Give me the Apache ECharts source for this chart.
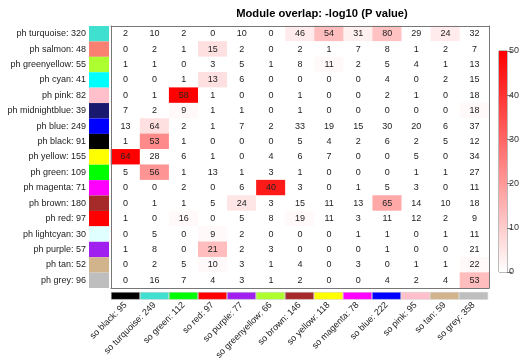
<!DOCTYPE html>
<html>
<head>
<meta charset="utf-8">
<script src="https://cdn.jsdelivr.net/npm/echarts@6/dist/echarts.min.js"></script>
<style>
html,body{margin:0;padding:0;background:#fff;}
#c{width:526px;height:362px;}
</style>
</head>
<body>
<div id="c"></div>
<script>
var titleText = 'Module overlap: -log10 (P value)';
var colLabels = ['so black: 95','so turquoise: 249','so green: 112','so red: 97','so purple: 77','so greenyellow: 66','so brown: 146','so yellow: 118','so magenta: 78','so blue: 222','so pink: 95','so tan: 59','so grey: 358'];
var colColors = ['#000000','#40E0D0','#00FF00','#FF0000','#A020F0','#ADFF2F','#A52A2A','#FFFF00','#FF00FF','#0000FF','#FFC0CB','#D2B48C','#BEBEBE'];
var rowLabels = ['ph turquoise: 320','ph salmon: 48','ph greenyellow: 55','ph cyan: 41','ph pink: 82','ph midnightblue: 39','ph blue: 249','ph black: 91','ph yellow: 155','ph green: 109','ph magenta: 71','ph brown: 180','ph red: 97','ph lightcyan: 30','ph purple: 57','ph tan: 52','ph grey: 96'];
var rowColors = ['#40E0D0','#FA8072','#ADFF2F','#00FFFF','#FFC0CB','#191970','#0000FF','#000000','#FFFF00','#00FF00','#FF00FF','#A52A2A','#FF0000','#E0FFFF','#A020F0','#D2B48C','#BEBEBE'];
// overlap counts (cell text)
var counts = [
  [2,10,2,0,10,0,46,54,31,80,29,24,32],
  [0,2,1,15,2,0,2,1,7,8,1,2,7],
  [1,1,0,3,5,1,8,11,2,5,4,1,13],
  [0,0,1,13,6,0,0,0,0,4,0,2,15],
  [0,1,58,1,0,0,1,0,0,2,1,0,18],
  [7,2,9,1,1,0,1,0,0,0,0,0,18],
  [13,64,2,1,7,2,33,19,15,30,20,6,37],
  [1,53,1,0,0,0,5,4,2,6,2,5,12],
  [64,28,6,1,0,4,6,7,0,0,5,0,34],
  [5,56,1,13,1,3,1,0,0,0,1,1,27],
  [0,0,2,0,6,40,3,0,1,5,3,0,11],
  [0,1,1,5,24,3,15,11,13,65,14,10,18],
  [1,0,16,0,5,8,19,11,3,11,12,2,9],
  [0,5,0,9,2,0,0,0,1,1,0,1,11],
  [1,8,0,21,2,3,0,0,0,1,0,0,21],
  [0,2,5,10,3,1,4,0,3,0,1,1,22],
  [0,16,7,4,3,1,2,0,0,4,2,4,53]
];
// -log10(P) estimates (cell colour)
var logP = [
  [0,0,0,0,0,0,4,13,3,12,0,4,0],
  [0,0,0,6,0,0,0,0,0,0,0,0,0],
  [0,0,0,0,0,0,0,1.2,0,0,0,0,0],
  [0,0,0,6,0,0,0,0,0,0,0,0,0],
  [0,0,52,0,0,0,0,0,0,0,0,0,0],
  [0,0,1.2,0,0,0,0,0,0,0,0,0,1.2],
  [0,6,0,0,0,0,0,0,0,0,0,0,0],
  [0,23,0,0,0,0,0,0,0,0,0,0,0],
  [50,0,0,0,0,0,0,0,0,0,0,0,0],
  [0,21,0,0,0,0,0,0,0,0,0,0,0],
  [0,0,0,0,0,45,0,0,0,0,0,0,0],
  [0,0,0,0,5,0,0,0,0,17,0,0,0],
  [0,0,1.2,0,0,0,1.2,0,0,0,0,0,0],
  [0,0,0,1.2,0,0,0,0,0,0,0,0,0],
  [0,0,0,13,0,0,0,0,0,0,0,0,0],
  [0,0,0,1.2,0,0,0,0,0,0,0,0,1.2],
  [0,0,0,0,0,0,0,0,0,0,0,0,13]
];
var legendTicks = [0,10,20,30,40,50];

var FONT = 'Liberation Sans, Arial, sans-serif';
var heatData = [];
for (var r = 0; r < rowLabels.length; r++) {
  for (var c = 0; c < colLabels.length; c++) {
    heatData.push([c, r, logP[r][c], counts[r][c]]);
  }
}
var rowSwatch = rowColors.map(function (col) { return { value: 1, itemStyle: { color: col } }; });
var colSwatch = colColors.map(function (col) { return { value: 1, itemStyle: { color: col } }; });

var chart = echarts.init(document.getElementById('c'), null, { renderer: 'canvas' });
var hidden = { show: false };
chart.setOption({
  animation: false,
  backgroundColor: '#fff',
  title: {
    text: titleText, left: 317, top: 3, textAlign: 'center',
    textStyle: { fontFamily: FONT, fontSize: 11.2, fontWeight: 'bold', color: '#000' }
  },
  grid: [
    { left: 111, top: 26, width: 378, height: 262 },   // main
    { left: 89, top: 26, width: 20, height: 262 },     // row swatches
    { left: 111, top: 292, width: 377, height: 13 },   // column swatches
    { left: 499, top: 51, width: 8, height: 221, show: true, borderColor: '#777', borderWidth: 1 } // legend
  ],
  visualMap: {
    show: false, seriesIndex: 0, dimension: 2, min: 0, max: 50,
    inRange: { color: ['#FFFFFF', '#FF0000'] }
  },
  xAxis: [
    { gridIndex: 0, type: 'category', data: colLabels, position: 'bottom', z: 10,
      axisLine: { show: true, lineStyle: { color: '#777' } }, axisTick: hidden, axisLabel: hidden, splitLine: hidden },
    { gridIndex: 0, type: 'category', data: colLabels, position: 'top', z: 10,
      axisLine: { show: true, lineStyle: { color: '#777' } }, axisTick: hidden, axisLabel: hidden, splitLine: hidden },
    { gridIndex: 1, type: 'value', min: 0, max: 1, show: false },
    { gridIndex: 2, type: 'category', data: colLabels, position: 'bottom',
      axisLine: hidden, axisTick: hidden, splitLine: hidden,
      axisLabel: { show: true, interval: 0, rotate: 45, margin: 4, fontFamily: FONT, fontSize: 9, color: '#222' } },
    { gridIndex: 3, type: 'category', data: ['scale'], show: false }
  ],
  yAxis: [
    { gridIndex: 0, type: 'category', data: rowLabels, inverse: true, position: 'left', z: 10,
      axisLine: { show: true, lineStyle: { color: '#777' } }, axisTick: hidden, axisLabel: hidden, splitLine: hidden },
    { gridIndex: 0, type: 'category', data: rowLabels, inverse: true, position: 'right', z: 10,
      axisLine: { show: true, lineStyle: { color: '#777' } }, axisTick: hidden, axisLabel: hidden, splitLine: hidden },
    { gridIndex: 1, type: 'category', data: rowLabels, inverse: true, position: 'left',
      axisLine: hidden, axisTick: hidden, splitLine: hidden,
      axisLabel: { show: true, interval: 0, margin: 3, fontFamily: FONT, fontSize: 9, color: '#222' } },
    { gridIndex: 2, type: 'value', min: 0, max: 1, show: false },
    { gridIndex: 3, type: 'value', min: legendTicks[0], max: legendTicks[legendTicks.length - 1], interval: 10, position: 'right',
      axisLine: { show: false }, splitLine: hidden,
      axisTick: { show: true, length: 5, lineStyle: { color: '#777' } },
      axisLabel: { show: true, margin: 2, fontFamily: FONT, fontSize: 9, color: '#333' } }
  ],
  series: [
    {
      type: 'heatmap', xAxisIndex: 0, yAxisIndex: 0, data: heatData,
      label: { show: true, fontFamily: FONT, fontSize: 9, color: '#222',
        formatter: function (p) { return p.value[3]; } },
      itemStyle: { borderWidth: 0 },
      emphasis: { disabled: true }
    },
    {
      type: 'bar', xAxisIndex: 2, yAxisIndex: 2, data: rowSwatch,
      barWidth: '100%', barCategoryGap: 0, silent: true
    },
    {
      type: 'bar', xAxisIndex: 3, yAxisIndex: 3, data: colSwatch,
      barWidth: '100%', barCategoryGap: 0, silent: true,
      itemStyle: { borderColor: '#ccc', borderWidth: 0.5 }
    },
    {
      type: 'bar', xAxisIndex: 4, yAxisIndex: 4, data: [legendTicks[legendTicks.length - 1]],
      barWidth: '100%', silent: true, z: 1,
      itemStyle: { color: new echarts.graphic.LinearGradient(0, 0, 0, 1, [
        { offset: 0, color: '#FF0000' }, { offset: 1, color: '#FFFFFF' }]) }
    }
  ]
});
</script>
</body>
</html>
